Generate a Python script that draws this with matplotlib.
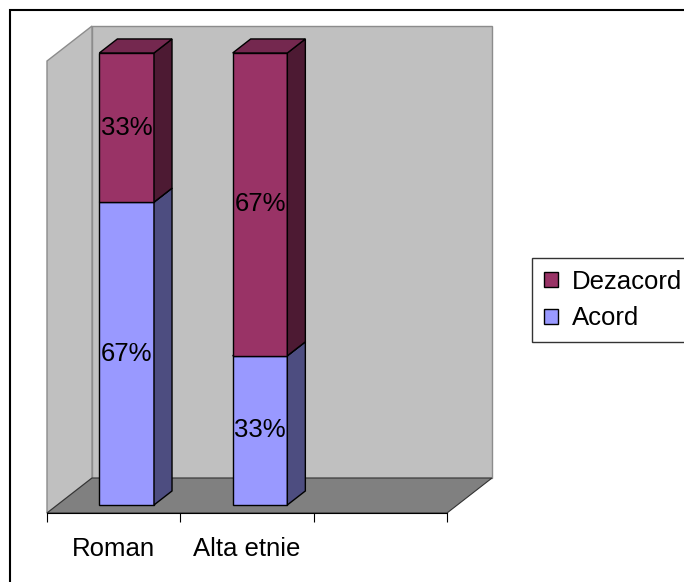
import matplotlib.pyplot as plt
from matplotlib.patches import Patch, Rectangle

plt.rcParams["font.family"] = ["Liberation Sans", "DejaVu Sans"]

# data
categories = ["Roman", "Alta etnie", ""]
acord = [0.67, 0.33]
dezacord = [0.33, 0.67]

# colours (front, side, top)
acord_col = ("#9999ff", "#4d4d80", "#7a7acc")
dezacord_col = ("#993366", "#4d1a33", "#74284f")
wall_col = "#c0c0c0"
floor_col = "#808080"

# fake 3d: depth 1 moves a point right/up by this much (data units)
ddx = 0.3375
ddy = 0.0774

def P(x, y, d):
    return (x + d * ddx, y + d * ddy)

def face(ax, pts, fc, ec="black", lw=1.0, z=2):
    xs = [p[0] for p in pts]
    ys = [p[1] for p in pts]
    ax.fill(xs, ys, facecolor=fc, edgecolor=ec, linewidth=lw, clip_on=False, zorder=z)

fig = plt.figure(figsize=(6.84, 5.82), dpi=100)
ax = fig.add_axes([47 / 684, 69 / 582, 400 / 684, 452 / 582])
ax.set_xlim(0, len(categories))
ax.set_ylim(0, 1)
ax.patch.set_visible(False)

# walls and floor
n = len(categories)
face(ax, [P(0, 0, 1), P(n, 0, 1), P(n, 1, 1), P(0, 1, 1)], wall_col, ec="#8c8c8c", z=1)
face(ax, [P(0, 0, 0), P(0, 0, 1), P(0, 1, 1), P(0, 1, 0)], wall_col, ec="#8c8c8c", z=1)
face(ax, [P(0, 0, 0), P(n, 0, 0), P(n, 0, 1), P(0, 0, 1)], floor_col, ec="#333333", lw=0.8, z=1)

# bars
w = 0.41
d0, d1 = 0.23, 0.63
fs = 18.5
for i in range(len(acord)):
    c = i + 0.52
    l, r = c - w / 2, c + w / 2
    base = 0
    for val, cols in [(acord[i], acord_col), (dezacord[i], dezacord_col)]:
        y0, y1 = base, base + val
        face(ax, [P(l, y0, d0), P(r, y0, d0), P(r, y1, d0), P(l, y1, d0)], cols[0], z=3)
        face(ax, [P(r, y0, d0), P(r, y0, d1), P(r, y1, d1), P(r, y1, d0)], cols[1], z=3)
        face(ax, [P(l, y1, d0), P(r, y1, d0), P(r, y1, d1), P(l, y1, d1)], cols[2], z=3)
        tx, ty = P(c, (y0 + y1) / 2, d0)
        ax.text(tx, ty, "%d%%" % round(val * 100), ha="center", va="center",
                fontsize=fs, color="black", zorder=5)
        base = y1

# axis
for s in ["left", "right", "top"]:
    ax.spines[s].set_visible(False)
ax.spines["bottom"].set_color("black")
ax.spines["bottom"].set_linewidth(0.8)
ax.spines["bottom"].set_zorder(2)
ax.set_yticks([])
ax.set_xticks(range(n + 1))
ax.set_xticklabels([])
ax.tick_params(axis="x", which="major", length=6.5, width=0.8, direction="out")
ax.set_xticks([i + 0.5 for i in range(n)], minor=True)
ax.set_xticklabels(categories, minor=True, fontsize=fs)
ax.tick_params(axis="x", which="minor", length=0, pad=17)

# legend
handles = [Patch(facecolor=dezacord_col[0], edgecolor="black", label="Dezacord"),
           Patch(facecolor=acord_col[0], edgecolor="black", label="Acord")]
leg = fig.legend(handles=handles, loc="upper left", bbox_to_anchor=(532 / 684, 1 - 258 / 582),
                 fontsize=fs, frameon=True, fancybox=False, handlelength=0.55,
                 handleheight=0.55, handletextpad=0.55, labelspacing=0.5,
                 borderpad=0.45, borderaxespad=0)
leg.get_frame().set_edgecolor("black")
leg.get_frame().set_linewidth(1.0)

# outer chart border
fig.patches.append(Rectangle((9.5 / 684, -0.1), 1.2, 1.1 - 9.5 / 582, transform=fig.transFigure,
                             fill=False, edgecolor="black", linewidth=1.5))

fig.savefig("out.png", dpi=100)
